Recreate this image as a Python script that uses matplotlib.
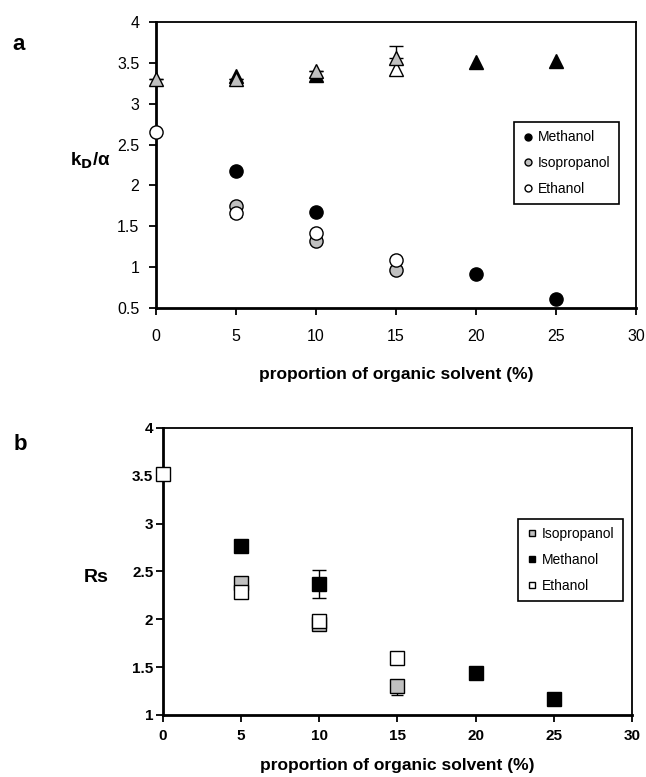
import matplotlib
matplotlib.use("Agg")
import matplotlib.pyplot as plt
from matplotlib.lines import Line2D

plt.rcParams['font.family'] = ['Liberation Sans', 'DejaVu Sans']

# panel a: kD/alpha (circles) and alpha (triangles)
meth_x_a = [5, 10, 20, 25]
meth_k_a = [2.18, 1.67, 0.92, 0.61]
iso_x_a = [5, 10, 15]
iso_k_a = [1.75, 1.32, 0.97]
eth_x_a = [0, 5, 10, 15]
eth_k_a = [2.65, 1.66, 1.42, 1.09]
eth_k_err = [0, 0.05, 0, 0]

meth_alpha_x = [5, 10, 20, 25]
meth_alpha = [3.34, 3.35, 3.51, 3.52]
iso_alpha_x = [0, 5, 10, 15]
iso_alpha = [3.30, 3.30, 3.40, 3.56]
iso_alpha_err = [0, 0, 0, 0.15]
eth_alpha_x = [15]
eth_alpha = [3.42]

# panel b: Rs (squares)
iso_x_b = [5, 10, 15]
iso_rs = [2.38, 1.95, 1.30]
iso_rs_err = [0, 0, 0.09]
meth_x_b = [5, 10, 20, 25]
meth_rs = [2.77, 2.37, 1.44, 1.17]
meth_rs_err = [0, 0.15, 0, 0]
eth_x_b = [0, 5, 10, 15]
eth_rs = [3.52, 2.29, 1.98, 1.60]
eth_rs_err = [0, 0.07, 0, 0]

GRAY = '#c0c0c0'
ms = 9.5

fig = plt.figure(figsize=(6.46, 7.77), dpi=100)
ax1 = fig.add_axes([0.2415, 0.6036, 0.743, 0.3681])
ax2 = fig.add_axes([0.2523, 0.0798, 0.726, 0.3694])

# triangles first (behind)
ax1.plot(meth_alpha_x, meth_alpha, '^', color='black', mec='black', ms=ms, zorder=3,
         clip_on=False)
ax1.plot(eth_alpha_x, eth_alpha, '^', color='white', mec='black', ms=ms, zorder=3,
         clip_on=False)
ax1.errorbar(iso_alpha_x, iso_alpha, yerr=[[0]*4, iso_alpha_err], fmt='^', color=GRAY,
             mec='black', ecolor='black', elinewidth=1, capsize=5, ms=ms, zorder=4,
             clip_on=False)

# circles
ax1.plot(meth_x_a, meth_k_a, 'o', color='black', mec='black', ms=ms, zorder=3, clip_on=False)
ax1.plot(iso_x_a, iso_k_a, 'o', color=GRAY, mec='black', ms=ms, zorder=4, clip_on=False)
ax1.errorbar(eth_x_a, eth_k_a, yerr=[eth_k_err, [0]*4], fmt='o', color='white', mec='black',
             ecolor='black', elinewidth=1, capsize=4, ms=ms, zorder=5, clip_on=False)

ax1.set_xlim(0, 30)
ax1.set_ylim(0.5, 4)
ax1.set_xticks([0, 5, 10, 15, 20, 25, 30])
ax1.set_yticks([0.5, 1, 1.5, 2, 2.5, 3, 3.5, 4])
ax1.set_yticklabels(['0.5', '1', '1.5', '2', '2.5', '3', '3.5', '4'])

# panel b squares
ax2.errorbar(iso_x_b, iso_rs, yerr=[iso_rs_err, [0]*3], fmt='s', color=GRAY, mec='black',
             ecolor='black', elinewidth=1, capsize=4, ms=ms, zorder=3, clip_on=False)
ax2.errorbar(meth_x_b, meth_rs, yerr=meth_rs_err, fmt='s', color='black', mec='black',
             ecolor='black', elinewidth=1, capsize=5, ms=ms, zorder=4, clip_on=False)
ax2.errorbar(eth_x_b, eth_rs, yerr=[eth_rs_err, [0]*4], fmt='s', color='white', mec='black',
             ecolor='black', elinewidth=1, capsize=4, ms=ms, zorder=5, clip_on=False)

ax2.set_xlim(0, 30)
ax2.set_ylim(1, 4)
ax2.set_xticks([0, 5, 10, 15, 20, 25, 30])
ax2.set_yticks([1, 1.5, 2, 2.5, 3, 3.5, 4])
ax2.set_yticklabels(['1', '1.5', '2', '2.5', '3', '3.5', '4'])

for ax in (ax1, ax2):
    for side in ('top', 'right'):
        ax.spines[side].set_linewidth(1.3)
    for side in ('left', 'bottom'):
        ax.spines[side].set_linewidth(2)

ax1.tick_params(direction='out', length=5, width=1.3, labelsize=11.5)
ax1.tick_params(axis='y', pad=7)
ax1.tick_params(axis='x', pad=10)
ax2.tick_params(direction='out', length=5, width=1.3, labelsize=11)
ax2.tick_params(axis='y', pad=2)
ax2.tick_params(axis='x', pad=5)
for lab in ax2.get_xticklabels() + ax2.get_yticklabels():
    lab.set_fontweight('bold')

ax1.set_xlabel('proportion of organic solvent (%)', fontsize=12.5, fontweight='bold',
               labelpad=17)
ax2.set_xlabel('proportion of organic solvent (%)', fontsize=12.5, fontweight='bold',
               labelpad=11)

# legends
h_a = [Line2D([], [], ls='none', marker='o', ms=5, mfc=c, mec='black') for c in ('black', GRAY, 'white')]
h_b = [Line2D([], [], ls='none', marker='s', ms=5, mfc=c, mec='black') for c in (GRAY, 'black', 'white')]
leg_kw = dict(loc='upper left', fancybox=False, edgecolor='black', framealpha=1, fontsize=10,
              handletextpad=0.3, handlelength=0.8, borderpad=0.6, labelspacing=0.85,
              borderaxespad=0)
leg1 = ax1.legend(h_a, ['Methanol', 'Isopropanol', 'Ethanol'], bbox_to_anchor=(0.746, 0.65),
                  **leg_kw)
leg2 = ax2.legend(h_b, ['Isopropanol', 'Methanol', 'Ethanol'], bbox_to_anchor=(0.757, 0.683),
                  **leg_kw)
for leg in (leg1, leg2):
    leg.get_frame().set_linewidth(1.2)

fig.text(12 / 646, 1 - 45 / 777, 'a', fontsize=16, fontweight='bold', va='center')
fig.text(14 / 646, 1 - 445 / 777, 'b', fontsize=16, fontweight='bold', va='center')
fig.text(70 / 646, 1 - 161 / 777, r'k$_\mathbf{D}$/α', fontsize=13.5, fontweight='bold',
         va='center')
fig.text(84 / 646, 1 - 577 / 777, 'Rs', fontsize=14, fontweight='bold', va='center')

fig.savefig('out.png', dpi=100)
